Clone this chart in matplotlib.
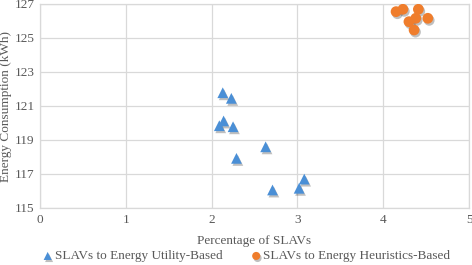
import matplotlib
matplotlib.use("Agg")
import matplotlib.pyplot as plt
import matplotlib.patheffects as pe

util_x = [2.13, 2.23, 2.14, 2.09, 2.25, 2.63, 2.29, 3.08, 3.02, 2.71]
util_y = [121.78, 121.45, 120.12, 119.84, 119.78, 118.6, 117.92, 116.7, 116.16, 116.06]
heur_x = [4.15, 4.23, 4.41, 4.30, 4.38, 4.52, 4.36]
heur_y = [126.55, 126.69, 126.69, 125.96, 126.16, 126.16, 125.47]

x_ticks = [0, 1, 2, 3, 4, 5]
y_ticks = [115, 117, 119, 121, 123, 125, 127]

plt.rcParams['font.family'] = ['Liberation Serif', 'DejaVu Serif']
txt = '#595959'
blue = '#4a8fd6'
orange = '#ef7d2c'
fs = 9.5

fig = plt.figure(figsize=(4.72, 2.65), dpi=100)
ax = fig.add_axes([40/472, 1-208/265, 429/472, 204/265])

shadow = [pe.SimplePatchShadow(offset=(1, -1.5), shadow_rgbFace='#000000', alpha=0.25), pe.Normal()]
ax.scatter(util_x, util_y, marker='^', s=60, color=blue, zorder=3, linewidths=0,
           path_effects=shadow, label='SLAVs to Energy Utility-Based')
ax.scatter(heur_x, heur_y, marker='o', s=60, color=orange, zorder=3, linewidths=0,
           path_effects=shadow, label='SLAVs to Energy Heuristics-Based')

ax.set_xlim(0, 5)
ax.set_ylim(115, 127)
ax.set_xticks(x_ticks)
ax.set_yticks(y_ticks)
ax.grid(True, color='#d9d9d9', linewidth=0.9)
ax.set_axisbelow(True)
for s in ax.spines.values():
    s.set_color('#d9d9d9')
    s.set_linewidth(0.9)
ax.tick_params(length=0, labelsize=fs, colors=txt, pad=4)
ax.set_xlabel('Percentage of SLAVs', fontsize=fs, color=txt, labelpad=7)
ax.set_ylabel('Energy Consumption (kWh)', fontsize=fs, color=txt, labelpad=2)

leg = fig.legend(loc='lower center', bbox_to_anchor=(0.52, -0.035), ncol=2, frameon=False,
                 fontsize=fs, handletextpad=0.0, columnspacing=2.0, markerscale=0.75,
                 handlelength=1.1)
for t in leg.get_texts():
    t.set_color(txt)

fig.savefig('out.png', dpi=100)
